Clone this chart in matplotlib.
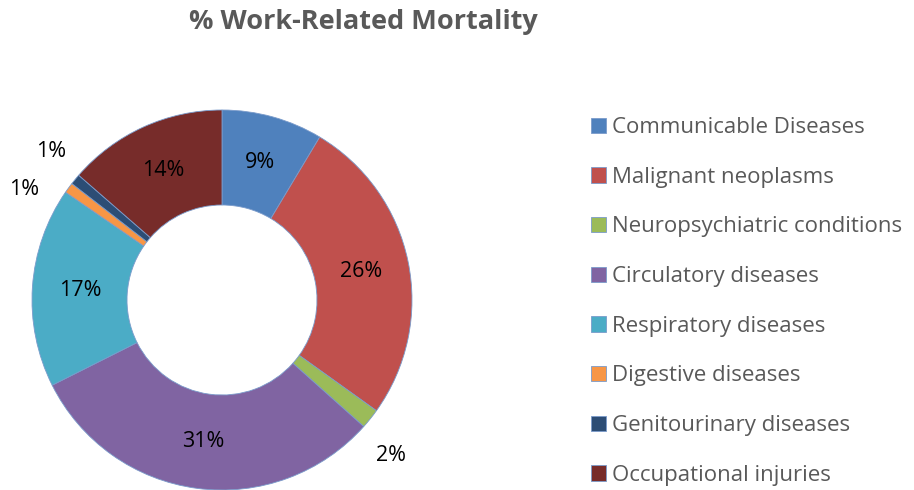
import numpy as np
import matplotlib
matplotlib.use("Agg")
import matplotlib.pyplot as plt

plt.rcParams['font.family'] = ['Open Sans', 'DejaVu Sans']

categories = ["Communicable Diseases", "Malignant neoplasms", "Neuropsychiatric conditions",
              "Circulatory diseases", "Respiratory diseases", "Digestive diseases",
              "Genitourinary diseases", "Occupational injuries"]
values = [8.6, 26.3, 1.7, 31.0, 17.0, 0.9, 0.9, 13.6]
labels = ["9%", "26%", "2%", "31%", "17%", "1%", "1%", "14%"]
colors = ["#4F81BD", "#C0504D", "#9BBB59", "#8064A2", "#4BACC6", "#F79646", "#2C4D75", "#772C2A"]

# outside labels for the thin slices: (radius, angle shift in degrees)
outside = {2: (1.21, -4.0), 5: (1.19, 7.0), 6: (1.19, -1.5)}

W, H = 914, 490
fig = plt.figure(figsize=(W / 100, H / 100), dpi=100)

# donut: centre (222, 300) px, radius 190 px
cx, cy, r = 222, 300, 190
ax = fig.add_axes([(cx - r) / W, (H - cy - r) / H, 2 * r / W, 2 * r / H])
wedges, _ = ax.pie(values, colors=colors, startangle=90, counterclock=False,
                   radius=1.0, wedgeprops=dict(width=0.5, edgecolor="#7A9BCB", linewidth=0.6))
ax.set_xlim(-1, 1)
ax.set_ylim(-1, 1)
ax.set_aspect("equal")
ax.axis("off")

for i, w in enumerate(wedges):
    mid = np.deg2rad((w.theta1 + w.theta2) / 2)
    rad = 0.75
    if i in outside:
        rad, shift = outside[i]
        mid = mid + np.deg2rad(shift)
    ax.text(rad * np.cos(mid), rad * np.sin(mid), labels[i], ha="center", va="center",
            fontsize=15.5, color="black", clip_on=False)

fig.text(363 / W, 1 - 22 / H, "% Work-Related Mortality", ha="center", va="center",
         fontsize=19.5, fontweight="bold", color="#595959")

leg = fig.legend(wedges, categories, loc="upper left", bbox_to_anchor=(591 / W, 1 - 117 / H),
                 frameon=False, fontsize=16, labelspacing=1.29, handlelength=0.68,
                 handleheight=0.68, handletextpad=0.27, borderaxespad=0, borderpad=0)
for t in leg.get_texts():
    t.set_color("#595959")

fig.savefig("out.png", dpi=100)
